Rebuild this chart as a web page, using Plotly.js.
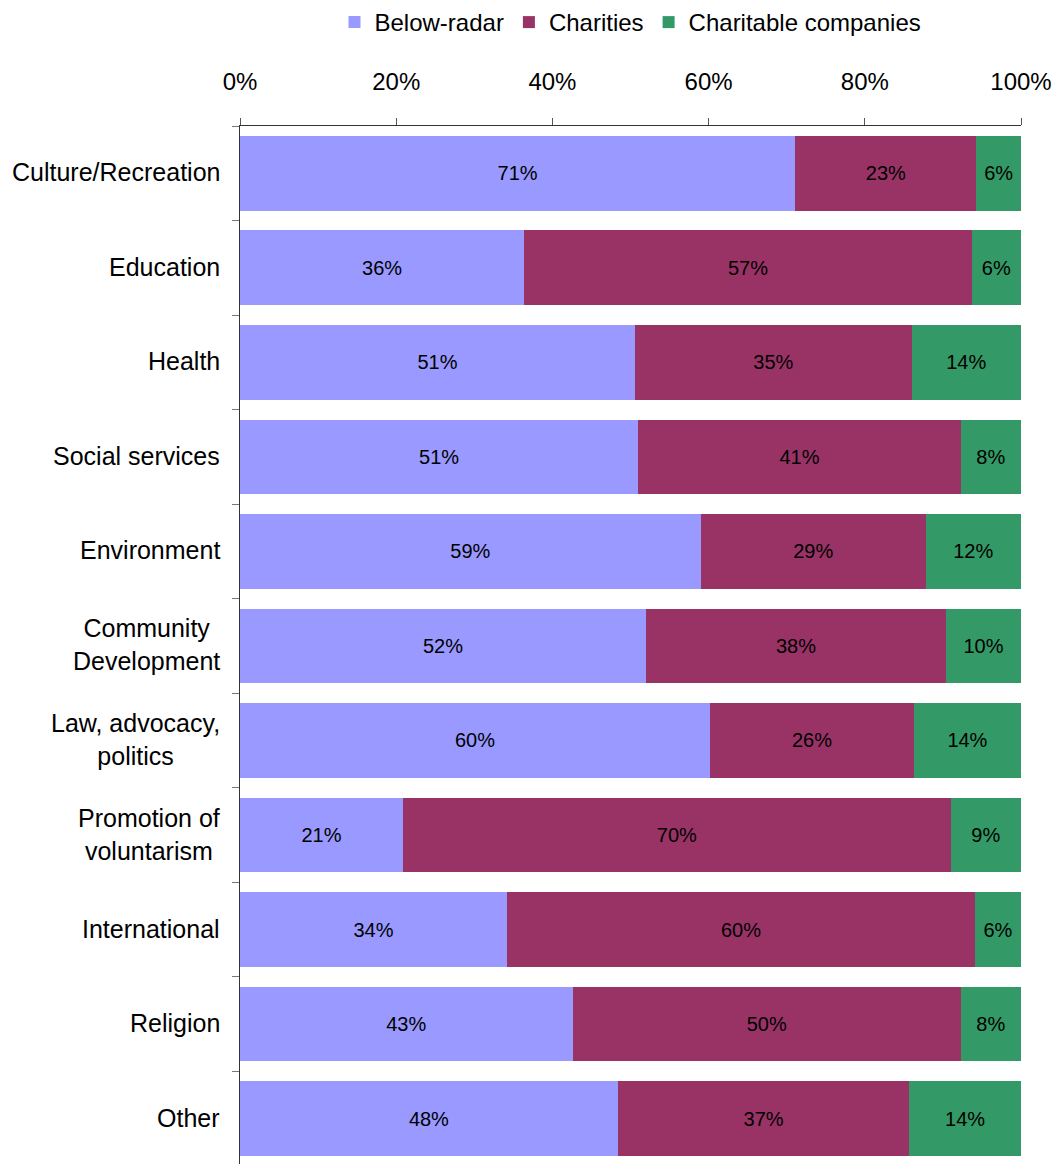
<!DOCTYPE html>
<html>
<head>
<meta charset="utf-8">
<script src="https://cdn.plot.ly/plotly-3.0.1.min.js"></script>
<style>html,body{margin:0;padding:0;background:#fff;overflow:hidden;}</style>
</head>
<body>
<div id="chart" style="width:1059px;height:1164px;"></div>
<script>
var categories = ['Culture/Recreation', 'Education', 'Health', 'Social services', 'Environment',
  'Community<br>Development', 'Law, advocacy,<br>politics', 'Promotion of<br>voluntarism',
  'International', 'Religion', 'Other'];
var belowRadar = [71.1, 36.4, 50.6, 51.0, 59.0, 52.0, 60.2, 20.9, 34.2, 42.6, 48.4];
var charities  = [23.2, 57.3, 35.4, 41.3, 28.8, 38.4, 26.1, 70.1, 59.9, 49.7, 37.3];
var companies  = [5.7, 6.3, 14.0, 7.7, 12.2, 9.6, 13.7, 9.0, 5.9, 7.7, 14.3];
var seriesNames = ['Below-radar', 'Charities', 'Charitable companies'];
var seriesColors = ['#9999FF', '#993366', '#339966'];
var xTickVals = [0, 20, 40, 60, 80, 100];

var FONT = 'Liberation Sans, Arial, sans-serif';
var seriesValues = [belowRadar, charities, companies];
var traces = seriesValues.map(function (vals, i) {
  return {
    type: 'bar', orientation: 'h',
    name: seriesNames[i], x: vals, y: categories,
    marker: {color: seriesColors[i], line: {width: 0}},
    texttemplate: '%{x:.0f}%', textposition: 'inside', insidetextanchor: 'middle',
    textangle: 0, constraintext: 'none',
    textfont: {family: FONT, size: 20, color: '#000'},
    hoverinfo: 'none'
  };
});

var annotations = categories.map(function (c) {
  return {
    xref: 'paper', yref: 'y', x: 0, y: c, xanchor: 'right', yanchor: 'middle',
    xshift: -18, yshift: 1, text: c, showarrow: false, align: 'center',
    font: {family: FONT, size: 25, color: '#000'}
  };
});

var layout = {
  width: 1059, height: 1164,
  margin: {l: 240, r: 38, t: 122, b: 0, pad: 0},
  paper_bgcolor: '#fff', plot_bgcolor: '#fff',
  barmode: 'stack', bargap: 0.21,
  font: {family: FONT, size: 24, color: '#000'},
  showlegend: true,
  legend: {orientation: 'h', x: 0.5, xanchor: 'center', y: 1.1, yanchor: 'middle',
    font: {family: FONT, size: 24, color: '#000'}, traceorder: 'normal', itemwidth: 30},
  xaxis: {
    side: 'top', range: [0, 100], tickvals: xTickVals,
    ticktext: xTickVals.map(function (v) { return v + '%'; }),
    ticks: 'outside', ticklen: 7, tickcolor: '#555', tickwidth: 1,
    showline: true, linecolor: '#333', linewidth: 1,
    showgrid: false, zeroline: false, fixedrange: true,
    ticklabelstandoff: 18,
    tickfont: {family: FONT, size: 24, color: '#000'}
  },
  yaxis: {
    type: 'category', autorange: false, range: [10.48, -0.5],
    tickson: 'boundaries', ticks: 'outside', ticklen: 7, tickcolor: '#777', tickwidth: 1,
    showline: true, linecolor: '#333', linewidth: 1,
    showgrid: false, zeroline: false, showticklabels: false, fixedrange: true
  },
  annotations: annotations
};

Plotly.newPlot('chart', traces, layout, {displayModeBar: false, staticPlot: true});
</script>
</body>
</html>
